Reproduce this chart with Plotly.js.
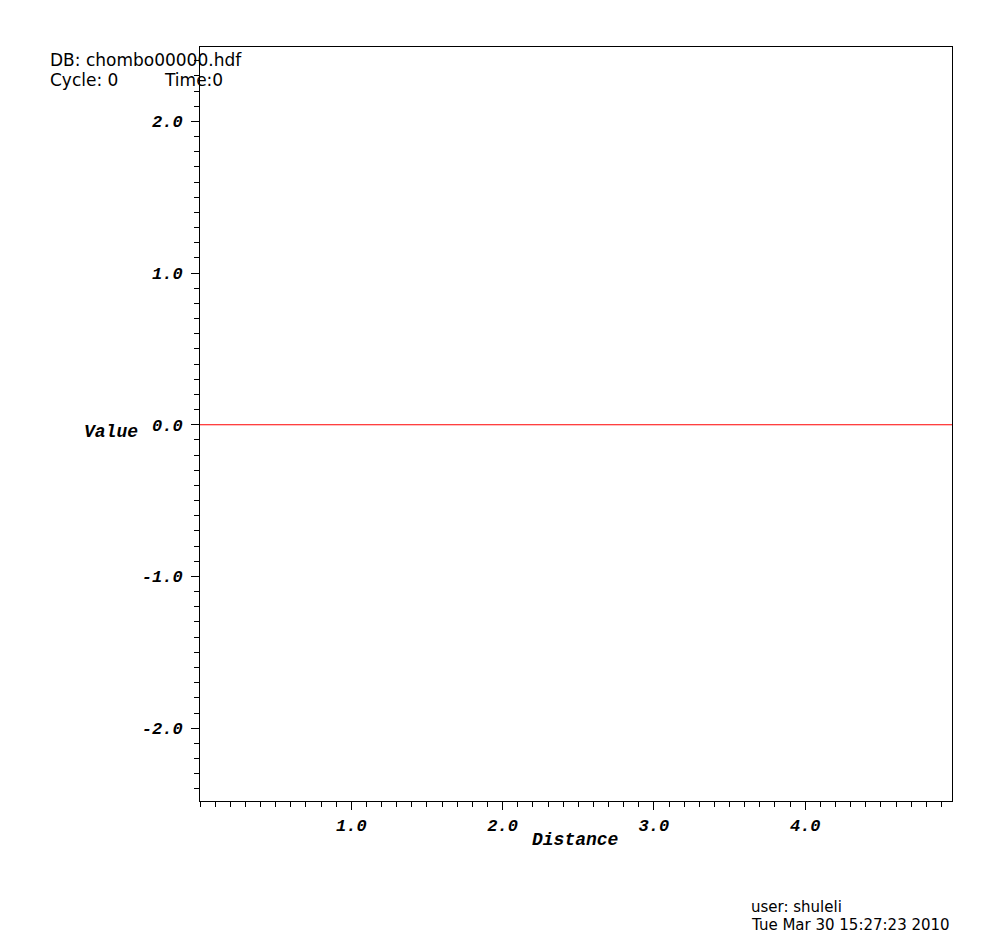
<!DOCTYPE html>
<html>
<head>
<meta charset="utf-8">
<script src="https://cdn.plot.ly/plotly-3.0.1.min.js"></script>
<style>html,body{margin:0;padding:0;background:#fff;}#chart{width:1003px;height:944px;}</style>
</head>
<body>
<div id="chart"></div>
<script>
// Data
const distance = [0.0, 1.0, 2.0, 3.0, 4.0, 4.97];
const value = [0.0, 0.0, 0.0, 0.0, 0.0, 0.0];
const xTickVals = [1, 2, 3, 4];
const xTickText = ["1.0", "2.0", "3.0", "4.0"];
const yTickVals = [-2, -1, 0, 1, 2];
const yTickText = ["-2.0", "-1.0", "0.0", "1.0", "2.0"];
const headerLines = ["DB: chombo00000.hdf", "Cycle: 0", "Time:0"];
const footerLines = ["user: shuleli", "Tue Mar 30 15:27:23 2010"];

const L = 200, R = 51, T = 47, B = 143, W = 1003, H = 944;
const pw = W - L - R, ph = H - T - B;
const px = x => (x - L) / pw;
const py = y => (H - B - y) / ph;

const tickFont = {family: "Liberation Mono", size: 17, color: "#000", weight: "bold", style: "italic"};
const titleFont = {family: "Liberation Mono", size: 18, color: "#000", weight: "bold", style: "italic"};
const hdrFont = {family: "DejaVu Sans", size: 17, color: "#000"};
const ftrFont = {family: "DejaVu Sans", size: 15, color: "#000"};

const trace = {
  x: distance, y: value, type: "scatter", mode: "lines",
  line: {color: "#ff0000", width: 1}, hoverinfo: "skip", showlegend: false
};

const axisCommon = {
  showgrid: false, zeroline: false, showline: true, linecolor: "#000", linewidth: 1,
  mirror: true, ticks: "outside", ticklen: 8, tickwidth: 1, tickcolor: "#000",
  tickfont: tickFont, tickmode: "array"
};

const ann = (text, x, y, font, xanchor) => ({
  text: text, x: px(x), y: py(y), xref: "paper", yref: "paper",
  xanchor: xanchor || "left", yanchor: "middle", showarrow: false, font: font, borderpad: 0
});

const layout = {
  width: W, height: H,
  margin: {l: L, r: R, t: T, b: B, pad: 0},
  paper_bgcolor: "#fff", plot_bgcolor: "#fff",
  xaxis: Object.assign({}, axisCommon, {range: [0, 4.97], tickvals: xTickVals, ticktext: xTickText, ticklabelstandoff: 1,
    minor: {tick0: 0, dtick: 0.1, ticks: "outside", ticklen: 5, tickwidth: 1, tickcolor: "#000", showgrid: false}}),
  yaxis: Object.assign({}, axisCommon, {range: [-2.48, 2.49], tickvals: yTickVals, ticktext: yTickText, ticklabelstandoff: 5,
    minor: {tick0: 0, dtick: 0.1, ticks: "outside", ticklen: 5, tickwidth: 1, tickcolor: "#000", showgrid: false}}),
  annotations: [
    ann(headerLines[0], 49, 60, hdrFont),
    ann(headerLines[1], 49, 80, hdrFont),
    ann(headerLines[2], 163, 80, hdrFont),
    ann(footerLines[0], 750, 907, ftrFont),
    ann(footerLines[1], 750, 925, ftrFont),
    ann("Value", 111, 432, titleFont, "center"),
    ann("Distance", 575, 840, titleFont, "center")
  ]
};

Plotly.newPlot("chart", [trace], layout, {displayModeBar: false, staticPlot: true});
</script>
</body>
</html>
